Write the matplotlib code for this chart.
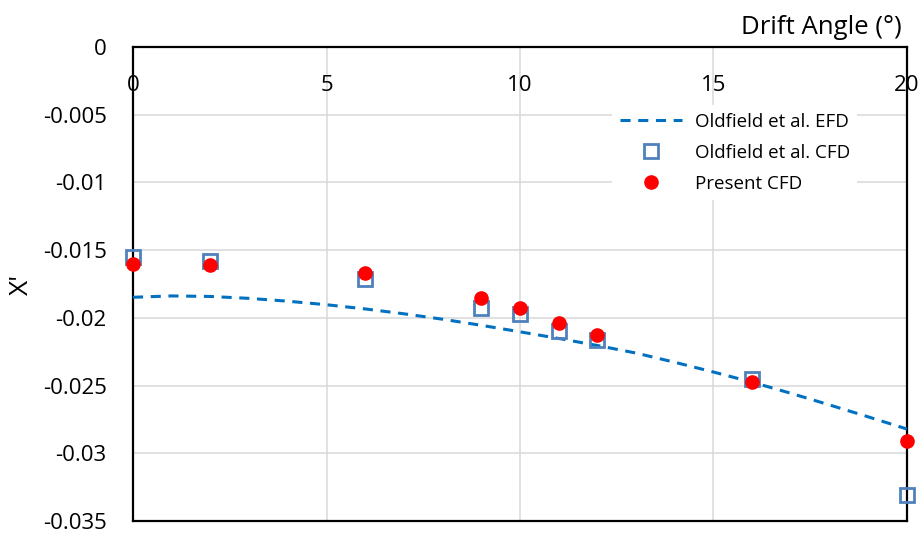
import matplotlib
matplotlib.use('Agg')
import matplotlib.pyplot as plt

plt.rcParams['font.family'] = ['Open Sans', 'DejaVu Sans']

# Oldfield et al. EFD curve
efd_angle = [0, 1, 2, 3, 4, 5, 6, 7, 8, 9, 10,
             11, 12, 13, 14, 15, 16, 17, 18, 19, 20]
efd_x = [-0.01848, -0.01838, -0.01842, -0.01856, -0.01877, -0.01903, -0.01934,
         -0.01970, -0.02010, -0.02055, -0.02103, -0.02152, -0.02204, -0.02260,
         -0.02328, -0.02400, -0.02475, -0.02557, -0.02643, -0.02731, -0.02821]

# Oldfield et al. CFD
cfd_angle = [0, 2, 6, 9, 10, 11, 12, 16, 20]
cfd_x = [-0.0155, -0.0158, -0.0171, -0.0193, -0.0197, -0.0210, -0.0216, -0.0245, -0.0331]

# present CFD
pres_angle = [0, 2, 6, 9, 10, 11, 12, 16, 20]
pres_x = [-0.0160, -0.0161, -0.0167, -0.0185, -0.0193, -0.0204, -0.0213, -0.0247, -0.0291]

xticks = [0, 5, 10, 15, 20]
yticks = [0, -0.005, -0.01, -0.015, -0.02, -0.025, -0.03, -0.035]
ytick_labels = ['0', '-0.005', '-0.01', '-0.015', '-0.02', '-0.025', '-0.03', '-0.035']

fig = plt.figure(figsize=(9.18, 5.33), dpi=100)
ax = fig.add_axes([0.1449, 0.0225, 0.8431, 0.8893])

ax.plot(efd_angle, efd_x, color='#0070C0', lw=2.2, ls=(0, (3.3, 2.5)),
        label='Oldfield et al. EFD', zorder=3)
ax.plot(cfd_angle, cfd_x, ls='none', marker='s', ms=10, mfc='none',
        mec='#4F81BD', mew=2.0, label='Oldfield et al. CFD', zorder=4, clip_on=False)
ax.plot(pres_angle, pres_x, ls='none', marker='o', ms=9.5, color='#FF0000',
        label='Present CFD', zorder=5, clip_on=False)

ax.set_xlim(0, 20)
ax.set_ylim(-0.035, 0)
ax.set_xticks(xticks)
ax.set_yticks(yticks)
ax.set_yticklabels(ytick_labels)

ax.grid(True, color='#D9D9D9', lw=1.1, zorder=0)
ax.set_axisbelow(True)
for s in ax.spines.values():
    s.set_color('black')
    s.set_linewidth(1.6)

ax.tick_params(axis='x', top=True, labeltop=True, bottom=False, labelbottom=False,
               length=0, pad=-35, labelsize=16)
ax.tick_params(axis='y', length=0, pad=19, labelsize=16)

# axis titles
fig.text(902 / 918, 1 - 34 / 533, 'Drift Angle (°)', ha='right', va='baseline', fontsize=18.5)
ax.set_ylabel("X'", fontsize=19, labelpad=6)

leg = ax.legend(loc='upper right', bbox_to_anchor=(0.936, 0.8776), borderaxespad=0,
                fontsize=13.5, frameon=True, facecolor='white', edgecolor='none',
                framealpha=1, fancybox=False, handlelength=3.3, handletextpad=0.7,
                labelspacing=0.7, borderpad=0.4)

fig.savefig('out.png', dpi=100)
